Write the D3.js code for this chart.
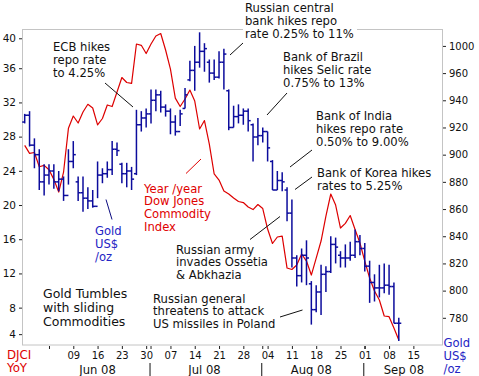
<!DOCTYPE html>
<html>
<head>
<meta charset="utf-8">
<script src="https://cdnjs.cloudflare.com/ajax/libs/d3/7.8.5/d3.min.js"></script>
<style>
  body { margin: 0; background: #fff; }
  svg { display: block; font-family: 'DejaVu Sans', Verdana, sans-serif; }
</style>
</head>
<body>
<div id="chart"></div>
<script>
// trading calendar (weekdays) the bars sit on
const calendarStart = Date.UTC(2008, 4, 26)
const calendarEnd = Date.UTC(2008, 8, 20)
const firstLabelledWeek = Date.UTC(2008, 5, 9)

// gold US$/oz, daily OHLC
const goldOpen = [924, 929, 907, 900, 880, 885, 888, 880, 882, 870, 895, 880, 872, 868, 866, 862, 885, 886, 889, 904,
  893, 886, 888, 886, 922, 927, 930, 940, 944, 935, 932, 924, 917, 934, 955, 962, 968, 976, 968, 960,
  957, 968, 947, 920, 928, 929, 932, 922, 913, 914, 917, 895, 874, 881, 874, 857, 824, 811, 826, 805,
  786, 799, 812, 814, 834, 826, 824, 824, 826, 836, 831, 818, 806, 802, 802, 804, 803, 776]
const goldHigh = [930, 932, 912, 904, 893, 893, 893, 888, 884, 904, 910, 884, 884, 876, 874, 895, 890, 895, 910, 909,
  894, 894, 891, 933, 932, 934, 948, 948, 947, 937, 934, 929, 933, 949, 969, 980, 990, 982, 970, 970,
  976, 978, 948, 936, 937, 934, 934, 923, 927, 920, 917, 896, 888, 887, 876, 867, 826, 831, 837, 807,
  804, 819, 818, 840, 839, 829, 834, 836, 845, 841, 835, 822, 812, 819, 820, 819, 806, 780]
const goldLow = [923, 906, 890, 874, 870, 878, 875, 873, 866, 878, 890, 866, 858, 860, 861, 868, 879, 883, 885, 899,
  879, 876, 874, 885, 917, 920, 923, 932, 931, 928, 915, 914, 921, 934, 954, 947, 964, 961, 953, 955,
  956, 948, 918, 920, 923, 922, 917, 895, 907, 909, 895, 874, 874, 873, 851, 817, 803, 806, 804, 775,
  784, 782, 799, 813, 820, 817, 817, 822, 824, 826, 814, 791, 792, 795, 798, 797, 776, 763]
const goldClose = [929, 907, 900, 880, 885, 888, 880, 882, 870, 895, 900, 872, 868, 866, 862, 885, 886, 889, 904, 903,
  886, 888, 882, 922, 927, 930, 940, 944, 935, 932, 924, 917, 930, 944, 962, 968, 976, 978, 960, 957,
  968, 974, 920, 928, 929, 932, 925, 913, 914, 917, 905, 874, 881, 880, 857, 824, 811, 826, 824, 786,
  799, 812, 814, 834, 832, 824, 824, 826, 836, 831, 818, 806, 802, 802, 804, 803, 776, 776]

// Dow Jones Commodity Index, year on year %
const djciYoY = [26.98, 26.04, 26.14, 24.48, 24.64, 24.12, 23.0, 21.52, 23.86, 28.97,
  30.41, 29.59, 30.88, 31.78, 31.35, 29.38, 30.12, 31.7, 31.52, 33.22,
  34.91, 34.33, 34.23, 38.83, 38.68, 37.72, 38.83, 39.77, 40.06, 38.13,
  35.9, 32.5, 31.52, 32.4, 33.45, 32.16, 28.89, 29.88, 27.13, 23.63,
  22.92, 21.64, 21.29, 20.82, 20.41, 20.29, 19.77, 19.47, 20.06, 19.59,
  17.19, 15.5, 16.26, 16.37, 12.63, 12.46, 12.98, 14.27, 13.45, 11.81,
  13.8, 15.79, 18.71, 21.29, 20.0, 17.31, 17.86, 18.77, 17.13, 15.56,
  13.45, 11.46, 9.94, 8.89, 7.02, 6.94, 5.61, 4.21]

const leftTicks = [4.9, 8, 12, 16, 20, 24, 28, 32, 36, 39.5]
const leftTickLabels = ['4', '8', '12', '16', '20', '24', '28', '32', '36', '40']
const rightTicks = [780, 800, 820, 840, 860, 880, 900, 920, 940, 960, 980]
const rightTickLabels = ['780', '800', '820', '840', '860', '880', '900', '920', '940', '960', '1000']
const monthLabels = ['Jun 08', 'Jul 08', 'Aug 08', 'Sep 08']

const notes = [
  { lines: ['ECB hikes', 'repo rate', 'to 4.25%'], x: 53, y: 51, leader: [105, 83, 133, 107] },
  { lines: ['Russian central', 'bank hikes repo', 'rate 0.25% to 11%'], x: 245, y: 12, leader: [230, 55, 243, 43], box: [243, 0, 114, 41] },
  { lines: ['Bank of Brazil', 'hikes Selic rate', '0.75% to 13%'], x: 283, y: 61, leader: [287, 93, 267, 115] },
  { lines: ['Bank of India', 'hikes repo rate', '0.50% to 9.00%'], x: 316, y: 120, leader: [312, 150, 290, 167] },
  { lines: ['Bank of Korea hikes', 'rates to 5.25%'], x: 317, y: 177, leader: [312, 177, 295, 189.5] },
  { lines: ['Year /year', 'Dow Jones', 'Commodity', 'Index'], x: 144, y: 192.5, color: '#e00000', leader: [186, 173.5, 201, 159] },
  { lines: ['Gold', 'US$', '/oz'], x: 95, y: 235, color: '#2424c4', leader: [106, 199.5, 112, 219.5], leaderColor: '#0c0c80' },
  { lines: ['Russian army', 'invades Ossetia', '& Abkhazia'], x: 176, y: 253.5, leader: [250, 239.5, 280, 216.5] },
  { lines: ['Russian general', 'threatens to attack', 'US missiles in Poland'], x: 153, y: 302.5, leader: [280, 317, 302.5, 310] },
  { lines: ['Gold Tumbles', 'with sliding', 'Commodities'], x: 43, y: 298, size: 12.5, step: 14 }
]

const W = 479
const H = 376
const plot = { left: 23, right: 443, top: 30, bottom: 345 }

const svg = d3.select('#chart').append('svg')
  .attr('width', W)
  .attr('height', H)

const days = d3.utcDays(new Date(calendarStart), new Date(calendarEnd))
  .filter(d => d.getUTCDay() % 6 !== 0)

const x = d3.scaleLinear().domain([-0.35, 86.1]).range([plot.left, plot.right])
const yGold = d3.scaleLinear().domain([760, 991.7]).range([plot.bottom, plot.top])
const yDjci = d3.scaleLinear().domain([3.63, 40.47]).range([plot.bottom, plot.top])

svg.append('rect')
  .attr('x', plot.left - 0.5)
  .attr('y', plot.top - 0.5)
  .attr('width', plot.right - plot.left)
  .attr('height', plot.bottom - plot.top + 0.5)
  .attr('fill', 'none')
  .attr('stroke', '#c4c4c4')

// DJCI line
const line = d3.line()
  .x((d, i) => x(i))
  .y(d => yDjci(d))

svg.append('path')
  .datum(djciYoY)
  .attr('d', line)
  .attr('fill', 'none')
  .attr('stroke', '#dd0000')
  .attr('stroke-width', 1.2)
  .attr('stroke-linejoin', 'round')

// gold OHLC bars
const bars = svg.append('g')
  .attr('stroke', '#0c0c9c')
  .attr('stroke-width', 1.5)
  .selectAll('g')
  .data(goldHigh.map((h, i) => ({ i, o: goldOpen[i], h, l: goldLow[i], c: goldClose[i] })))
  .join('g')

bars.append('line')
  .attr('x1', d => x(d.i)).attr('x2', d => x(d.i))
  .attr('y1', d => yGold(d.h)).attr('y2', d => yGold(d.l))
bars.append('line')
  .attr('x1', d => x(d.i) - 2.5).attr('x2', d => x(d.i))
  .attr('y1', d => yGold(d.o)).attr('y2', d => yGold(d.o))
bars.append('line')
  .attr('x1', d => x(d.i)).attr('x2', d => x(d.i) + 2.5)
  .attr('y1', d => yGold(d.c)).attr('y2', d => yGold(d.c))

// axes
const styleAxis = (g, size) => {
  g.select('.domain').remove()
  g.attr('font-family', null).attr('font-size', size)
  g.selectAll('line').attr('stroke', '#222')
  g.selectAll('text').attr('fill', '#111')
}

svg.append('g')
  .attr('transform', `translate(${plot.left - 1},0)`)
  .call(d3.axisLeft(yDjci).tickValues(leftTicks).tickFormat((d, i) => leftTickLabels[i]).tickSize(3).tickPadding(3))
  .call(g => styleAxis(g, 10.5))

svg.append('g')
  .attr('transform', `translate(${plot.right},0)`)
  .call(d3.axisRight(yGold).tickValues(rightTicks).tickFormat((d, i) => rightTickLabels[i]).tickSize(3).tickPadding(3))
  .call(g => styleAxis(g, 10))

const mondays = days.map((d, i) => ({ d, i }))
  .filter(o => o.d.getUTCDay() === 1 && o.i >= 5 && x(o.i) < plot.right - 10)

svg.append('g')
  .attr('transform', `translate(0,${plot.bottom + 1})`)
  .call(d3.axisBottom(x)
    .tickValues(mondays.map(o => o.i))
    .tickFormat(i => +days[i] >= firstLabelledWeek ? d3.utcFormat('%d')(days[i]) : '')
    .tickSize(3).tickPadding(3))
  .call(g => styleAxis(g, 10))

// month boundaries
const months = d3.utcMonths(new Date(Date.UTC(2008, 5, 1)), new Date(Date.UTC(2008, 9, 1)))
const monthStart = months.map(m => days.findIndex(d => d >= m))
const boundaries = monthStart.slice(1)

svg.append('g')
  .selectAll('line')
  .data(boundaries)
  .join('line')
  .attr('x1', d => x(d)).attr('x2', d => x(d))
  .attr('y1', plot.bottom + 1).attr('y2', plot.bottom + 4)
  .attr('stroke', '#222')

svg.append('g')
  .selectAll('line')
  .data(boundaries)
  .join('line')
  .attr('x1', d => x(d) - 1).attr('x2', d => x(d) - 1)
  .attr('y1', 363).attr('y2', 376)
  .attr('stroke', '#111')

svg.append('g')
  .attr('font-size', 11.6)
  .attr('fill', '#111')
  .attr('text-anchor', 'middle')
  .selectAll('text')
  .data(monthLabels)
  .join('text')
  .attr('x', (d, k) => {
    const end = k < monthStart.length - 1 ? monthStart[k + 1] - 1 : x.domain()[1]
    return x((monthStart[k] + end) / 2)
  })
  .attr('y', 373.5)
  .text(d => d)

// axis captions
const caption = (lines, xPos, yPos, color, size) => {
  const t = svg.append('text')
    .attr('x', xPos).attr('y', yPos)
    .attr('fill', color)
    .attr('font-size', size)
  lines.forEach((s, k) => t.append('tspan').attr('x', xPos).attr('y', yPos + k * 13.2).text(s))
}
caption(['DJCI', 'YoY'], 7, 359, '#dd0000', 11.8)
caption(['Gold', 'US$', '/oz'], 443.5, 347, '#2424c4', 11.6)

// annotations
notes.forEach(n => {
  if (n.box) {
    svg.append('rect')
      .attr('x', n.box[0]).attr('y', n.box[1])
      .attr('width', n.box[2]).attr('height', n.box[3])
      .attr('fill', '#fff')
  }
  if (n.leader) {
    svg.append('line')
      .attr('x1', n.leader[0]).attr('y1', n.leader[1])
      .attr('x2', n.leader[2]).attr('y2', n.leader[3])
      .attr('stroke', n.leaderColor || n.color || '#111')
  }
  const t = svg.append('text')
    .attr('fill', n.color || '#111')
    .attr('font-size', n.size || 11.6)
  n.lines.forEach((s, k) => {
    t.append('tspan')
      .attr('x', n.x)
      .attr('y', n.y + k * (n.step || 12.9))
      .text(s)
  })
})
</script>
</body>
</html>
